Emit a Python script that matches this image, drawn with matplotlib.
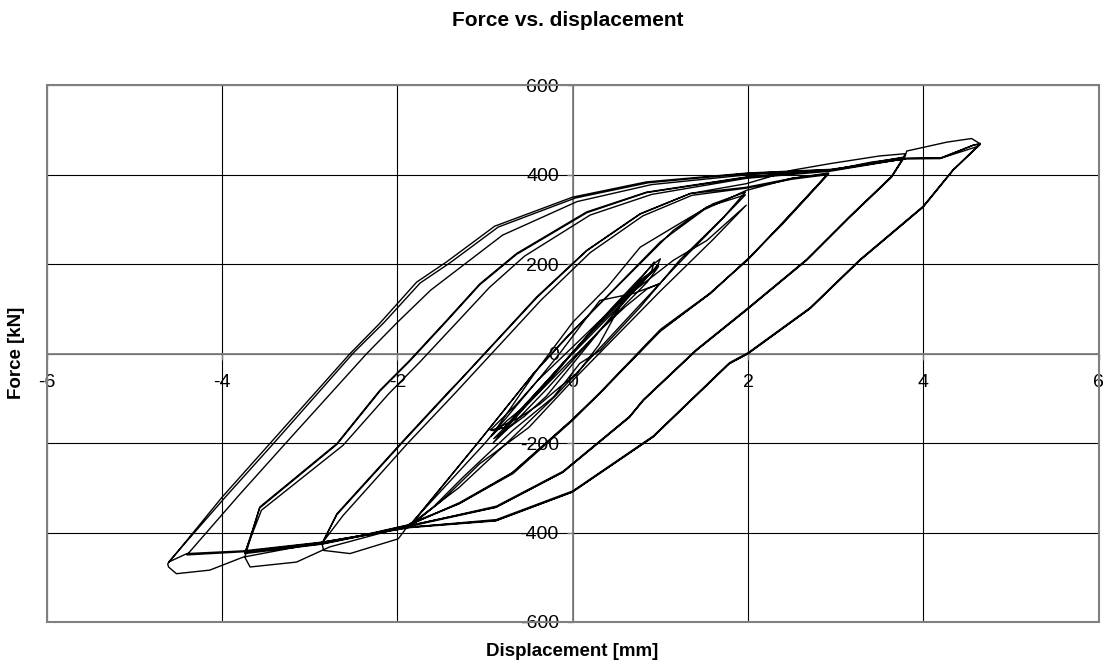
import numpy as np
import matplotlib
matplotlib.use("Agg")
import matplotlib.pyplot as plt
from matplotlib.patches import Rectangle

plt.rcParams['font.family'] = ['Liberation Sans', 'DejaVu Sans']
plt.rcParams['axes.unicode_minus'] = False

# Cyclic load test: displacement [mm] and force [kN], grouped by amplitude level
disp_1mm = [0.0, 0.25, 0.5, 0.75, 0.98, 0.8, 0.55, 0.3, 0.05, -0.15, -0.37, -0.6, -0.92,
            -0.78, -0.55, -0.3, -0.05, 0.2, 0.45, 0.7, 0.92, 1.0, 0.95, 0.82, 0.6, 0.35, 0.1, -0.15, -0.37, -0.6, -0.91,
            -0.62, -0.3, 0.0, 0.3, 0.6, 0.85, 1.0, 0.7, 0.31, 0.1, -0.15, -0.4, -0.65, -0.94,
            -0.75, -0.5, -0.2, 0.1, 0.4, 0.7, 0.93, 0.9, 0.7, 0.45, 0.2, -0.05, -0.3, -0.55, -0.9,
            -0.7, -0.45, -0.15, 0.15, 0.45, 0.75, 0.98, 0.85, 0.6, 0.35, 0.05, -0.25, -0.5, -0.75, -0.93]
force_1mm = [0, 50, 100, 150, 200, 160, 110, 20, -45, -75, -112, -142, -172,
             -165, -115, -62, -8, 48, 103, 155, 200, 212, 190, 172, 130, 80, 25, -30, -80, -130, -200,
             -145, -80, -15, 50, 105, 145, 157, 135, 119, 65, 0, -60, -115, -171,
             -165, -110, -45, 25, 90, 150, 205, 185, 140, 85, 25, -35, -95, -140, -190,
             -150, -95, -30, 35, 95, 155, 195, 160, 110, 60, 0, -60, -110, -150, -185]

disp_2mm = [-0.41, 0.0, 0.4, 0.77, 1.22, 1.6, 1.97,
            1.72, 1.22, 0.77, 0.31, 0.08, -0.22, -0.68, -1.25, -1.6, -1.86,
            -1.06, -0.45, -0.07, 0.39, 0.77, 1.15, 1.53, 1.97,
            1.7, 1.2, 0.7, 0.25, -0.2, -0.7, -1.3, -1.86,
            -1.0, -0.4, 0.0, 0.5, 1.15, 1.53, 1.98,
            1.6, 1.0, 0.5, 0.0, -0.5, -1.06, -1.5, -1.86]
force_2mm = [-37, 70, 150, 238, 291, 335, 361,
             305, 209, 104, 7, -22, -97, -171, -276, -345, -385,
             -194, -45, 37, 127, 201, 276, 328, 355,
             300, 200, 95, 0, -95, -190, -300, -383,
             -200, -60, 15, 110, 209, 253, 332,
             255, 140, 40, -60, -165, -246, -330, -386]

disp_3mm = [-1.06, -0.45, 0.0, 0.5, 1.0, 1.5, 1.98, 2.5, 2.92,
            2.78, 2.40, 2.02, 1.57, 1.0, 0.31, 0.0, -0.68, -1.29, -1.86, -1.99, -2.54, -2.84, -2.86,
            -2.69, -1.93, -1.40, -1.29, -0.41, 0.16, 0.77, 1.34, 1.98, 2.5, 2.92,
            2.78, 2.40, 2.0, 1.57, 1.0, 0.31, 0.0, -0.68, -1.29, -1.86, -2.4, -2.86,
            -2.62, -1.88, -1.34, -0.36, 0.2, 0.8, 1.36, 1.98, 2.5, 2.9,
            2.76, 2.38, 2.0, 1.55, 1.0, 0.3, -0.02, -0.7, -1.3, -1.86, -2.4, -2.86]
force_3mm = [-194, -45, 50, 150, 250, 322, 365, 392, 402,
             372, 291, 216, 134, 52, -89, -149, -268, -335, -380, -414, -447, -440, -425,
             -358, -194, -82, -60, 127, 231, 313, 358, 372, 392, 404,
             374, 293, 212, 136, 54, -87, -147, -265, -333, -383, -407, -424,
             -362, -200, -88, 120, 226, 308, 354, 370, 390, 400,
             370, 290, 210, 132, 50, -90, -150, -268, -336, -382, -406, -425]

disp_4mm = [-2.69, -1.93, -1.40, -0.41, 0.16, 0.77, 1.34, 1.98, 2.5, 2.94, 3.5, 3.79, 3.77,
            3.64, 3.16, 2.67, 1.98, 1.41, 0.81, 0.65, -0.11, -0.87, -1.86, -2.77, -3.15, -3.68, -3.74,
            -3.57, -2.69, -2.2, -1.86, -1.44, -1.06, -0.64, 0.16, 0.84, 1.98, 2.94, 3.4, 3.77,
            3.64, 3.16, 2.67, 1.98, 1.41, 0.81, 0.65, -0.11, -0.87, -1.86, -2.86, -3.74,
            -3.55, -2.62, -2.1, -1.75, -1.33, -0.95, -0.55, 0.2, 0.9, 1.98, 2.94, 3.77,
            3.63, 3.15, 2.66, 1.97, 1.4, 0.8, 0.64, -0.12, -0.88, -1.86, -2.86, -3.74]
force_4mm = [-360, -196, -84, 125, 230, 312, 358, 380, 410, 425, 442, 447, 436,
             395, 305, 209, 97, 7, -104, -142, -265, -343, -384, -432, -466, -477, -455,
             -343, -201, -82, -15, 74, 156, 224, 317, 361, 395, 410, 428, 438,
             397, 307, 211, 99, 9, -102, -140, -263, -341, -385, -425, -445,
             -350, -205, -90, -20, 68, 148, 218, 310, 356, 392, 408, 435,
             394, 304, 208, 96, 6, -105, -143, -266, -344, -386, -426, -447]

disp_5mm = [-3.57, -2.69, -2.2, -1.86, -1.44, -1.06, -0.64, 0.16, 0.84, 1.98, 2.94, 3.79, 3.81, 4.27, 4.55, 4.65,
            4.34, 4.0, 3.28, 2.71, 2.0, 1.79, 1.45, 0.92, 0.0, -0.87, -1.86, -2.84, -3.76, -4.14, -4.52, -4.61,
            -4.62, -4.0, -3.45, -2.54, -2.2, -1.78, -1.44, -0.89, 0.0, 0.84, 2.0, 2.94, 3.81, 4.19, 4.57, 4.65,
            4.34, 4.0, 3.28, 2.71, 2.0, 1.79, 1.45, 0.92, 0.0, -0.87, -1.86, -2.84, -3.76, -4.4, -4.61,
            -3.95, -3.4, -2.5, -2.15, -1.74, -1.4, -0.85, 0.03, 0.86, 2.0, 2.94, 3.81, 4.2, 4.58, 4.65,
            4.33, 3.99, 3.27, 2.7, 1.99, 1.78, 1.44, 0.91, -0.01, -0.88, -1.86, -2.84, -3.76, -4.4,
            -3.8, -3.25, -2.35, -2.0, -1.62, -1.3, -0.8, 0.05, 0.9, 2.0, 2.94, 3.8, 4.2, 4.6]
force_5mm = [-345, -203, -84, -17, 72, 154, 222, 315, 360, 394, 410, 440, 453, 473, 481, 469,
             410, 328, 209, 101, 0, -22, -86, -186, -309, -373, -388, -421, -455, -484, -492, -477,
             -470, -321, -200, 0, 68, 160, 205, 285, 350, 384, 404, 412, 436, 436, 466, 470,
             411, 330, 211, 103, 2, -20, -84, -184, -307, -371, -388, -421, -441, -447, -466,
             -318, -198, 2, 70, 158, 203, 283, 348, 382, 403, 411, 437, 438, 467, 468,
             409, 327, 208, 100, -1, -23, -87, -187, -310, -374, -389, -422, -443, -450,
             -315, -195, 0, 70, 142, 190, 265, 340, 378, 400, 410, 436, 437, 462]

x_ticks = [-6, -4, -2, 0, 2, 4, 6]
y_ticks = [-600, -400, -200, 0, 200, 400, 600]

W, H = 1107, 666
fig = plt.figure(figsize=(W / 100, H / 100), dpi=100)
ax = fig.add_axes([46.7 / W, 1 - 622 / H, 1052 / W, 536.7 / H])

disp = np.concatenate([disp_1mm, disp_2mm, disp_3mm, disp_4mm, disp_5mm])
force = np.concatenate([force_1mm, force_2mm, force_3mm, force_4mm, force_5mm])
ax.plot(disp, force, color='black', lw=1.0, zorder=3)

ax.set_xlim(-6, 6)
ax.set_ylim(-600, 600)
ax.set_xticks(x_ticks)
ax.set_yticks(y_ticks)
ax.set_xticklabels([str(v) for v in x_ticks])
ax.set_yticklabels([str(v) for v in y_ticks])

ax.set_axisbelow(True)
ax.grid(True, color='black', lw=0.8)

gray = '#808080'
for side in ('top', 'right'):
    ax.spines[side].set_visible(False)
for side in ('left', 'bottom'):
    ax.spines[side].set_position('zero')
    ax.spines[side].set_color(gray)
    ax.spines[side].set_linewidth(1.3)
ax.add_patch(Rectangle((0, 0), 1, 1, transform=ax.transAxes, fill=False,
                       ec=gray, lw=1.5, clip_on=False, zorder=4))

ax.tick_params(axis='both', direction='out', length=4, width=1, color=gray,
               labelsize=14, labelcolor='black')
ax.tick_params(axis='y', pad=6)
ax.tick_params(axis='x', pad=11)

fig.text(568 / W, 1 - 21 / H, 'Force vs. displacement', ha='center', va='center',
         fontsize=15, fontweight='bold')
fig.text(572 / W, 1 - 652 / H, 'Displacement [mm]', ha='center', va='center',
         fontsize=13.5, fontweight='bold')
fig.text(17 / W, 1 - 353 / H, 'Force [kN]', ha='center', va='center', rotation=90,
         fontsize=13.5, fontweight='bold')

fig.savefig('out.png', dpi=100, facecolor='white')
